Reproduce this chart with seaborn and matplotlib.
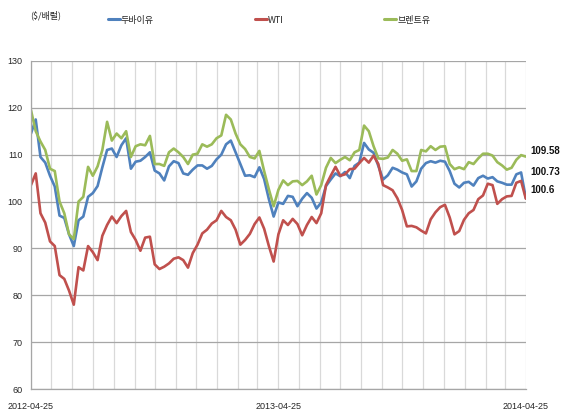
import pandas as pd
import matplotlib.pyplot as plt
import matplotlib.dates as mdates
import seaborn as sns

# -------------------- #
# Data (weekly)
# -------------------- #
start_date = "2012-04-25"
end_date = "2014-04-25"
n_weeks = 105

dubai = [114.5, 117.5, 109.5, 108.3, 105.5, 103.2, 97.0, 96.5, 93.0, 90.5,
         96.0, 96.8, 101.0, 101.8, 103.3, 107.3, 111.0, 111.3, 109.5, 112.0,
         113.5, 107.0, 108.5, 108.7, 109.5, 110.5, 106.6, 106.0, 104.5, 107.5,
         108.6, 108.2, 106.0, 105.7, 106.8, 107.7, 107.7, 107.0, 107.6, 109.0,
         110.0, 112.2, 113.0, 110.5, 108.0, 105.5, 105.6, 105.2, 107.3, 104.8,
         100.5, 96.8, 99.8, 99.5, 101.2, 101.0, 99.0, 100.6, 101.8, 100.8,
         98.5, 99.8, 103.3, 104.7, 106.0, 105.4, 106.3, 105.0, 107.6, 108.3,
         112.5, 111.1, 110.4, 107.6, 104.7, 105.6, 107.2, 106.8, 106.2, 105.8,
         103.2, 104.3, 107.0, 108.2, 108.6, 108.3, 108.7, 108.5, 106.5, 103.8,
         103.0, 104.0, 104.2, 103.4, 105.0, 105.5, 104.9, 105.2, 104.3, 104.0,
         103.6, 103.6, 105.8, 106.2, 100.73]

wti = [103.5, 106.0, 97.5, 95.5, 91.5, 90.5, 84.3, 83.5, 81.0, 78.0,
       86.0, 85.3, 90.5, 89.2, 87.5, 92.7, 95.0, 96.8, 95.4, 96.9,
       98.0, 93.5, 91.8, 89.5, 92.3, 92.5, 86.6, 85.6, 86.1, 86.8,
       87.8, 88.1, 87.5, 85.9, 89.0, 90.8, 93.2, 94.0, 95.3, 96.0,
       98.0, 96.7, 96.0, 94.0, 90.8, 91.8, 93.1, 95.2, 96.6, 94.2,
       90.5, 87.2, 93.0, 96.0, 95.0, 96.3, 95.2, 92.8, 95.0, 96.7,
       95.4, 97.5, 103.5, 105.5, 107.4, 105.5, 105.8, 106.9, 107.0, 108.2,
       109.3, 108.3, 109.8, 108.0, 103.5, 103.0, 102.4, 100.7, 98.2, 94.7,
       94.8, 94.5, 93.8, 93.2, 96.2, 97.7, 98.8, 99.3, 96.6, 93.0,
       93.7, 96.1, 97.5, 98.2, 100.5, 101.3, 103.8, 103.5, 99.5, 100.5,
       101.1, 101.2, 104.0, 104.4, 100.6]

brent = [119.5, 115.0, 112.8, 111.0, 107.0, 106.5, 100.0, 97.5, 93.0, 92.0,
         100.0, 101.0, 107.4, 105.5, 107.5, 111.0, 117.0, 113.0, 114.5, 113.5,
         115.0, 109.5, 111.8, 112.2, 112.0, 114.0, 108.0, 108.0, 107.6, 110.5,
         111.3, 110.5, 109.5, 108.0, 110.0, 110.2, 112.2, 111.7, 112.2, 113.5,
         114.1, 118.5, 117.5, 114.5, 112.2, 111.2, 109.5, 109.2, 110.8, 106.5,
         102.6, 99.0, 102.5, 104.5, 103.5, 104.3, 104.4, 103.5, 104.3, 105.5,
         101.5, 103.5, 107.2, 109.3, 108.2, 108.9, 109.5, 108.8, 110.5, 111.0,
         116.2, 115.0, 111.8, 109.2, 109.1, 109.4, 111.0, 110.2, 108.7, 109.0,
         106.5, 106.5, 111.0, 110.7, 111.8, 111.0, 111.7, 111.8, 108.0, 106.9,
         107.3, 106.9, 108.4, 108.0, 109.2, 110.2, 110.2, 109.8, 108.4, 107.7,
         106.8, 107.2, 108.9, 109.9, 109.58]

series_names = ["두바이유", "WTI", "브렌트유"]
series_colors = ["#4F81BD", "#C0504D", "#9BBB59"]
x_labels = ["2012-04-25", "2013-04-25", "2014-04-25"]
end_labels = ["109.58", "100.73", "100.6"]

dates = pd.date_range(start_date, end_date, periods=n_weeks)
df = pd.DataFrame({"date": dates, "두바이유": dubai, "WTI": wti, "브렌트유": brent})
long_df = df.melt(id_vars="date", var_name="유종", value_name="가격")

# -------------------- #
# Plot
# -------------------- #
sns.set_style("white")
plt.rcParams["font.family"] = ["Liberation Sans", "Noto Sans CJK KR", "DejaVu Sans"]

fig = plt.figure(figsize=(5.63, 4.17), dpi=100)
ax = fig.add_axes([0.055, 0.067, 0.879, 0.787])

sns.lineplot(data=long_df, x="date", y="가격", hue="유종", hue_order=series_names,
             palette=series_colors, linewidth=1.9, ax=ax, legend=False)

ax.set_xlim(pd.Timestamp(start_date), pd.Timestamp(end_date))
ax.set_ylim(60, 130)
ax.set_yticks(range(60, 131, 10))
ax.set_xticks(pd.to_datetime(x_labels))
ax.set_xticklabels(x_labels)
ax.xaxis.set_minor_locator(mdates.MonthLocator(bymonthday=25))

ax.grid(axis="y", color="#A6A6A6", linewidth=0.9)
ax.grid(axis="x", which="both", color="#D9D9D9", linewidth=0.9)
ax.set_axisbelow(True)

for side in ["top", "right"]:
    ax.spines[side].set_visible(False)
for side in ["left", "bottom"]:
    ax.spines[side].set_color("#A6A6A6")
    ax.spines[side].set_linewidth(0.9)

ax.tick_params(axis="y", length=3, color="#A6A6A6", labelsize=6.5, pad=3)
ax.tick_params(axis="x", which="both", length=0, labelsize=6.5, pad=9)
ax.set_xlabel("")
ax.set_ylabel("")

# end labels (nudged apart like the original)
end_x = pd.Timestamp(end_date) + pd.Timedelta(days=6)
for txt, yv in zip(end_labels, [110.7, 106.4, 102.5]):
    ax.text(end_x, yv, txt, fontsize=7, va="center", ha="left", clip_on=False,
            color="#111111", fontweight="bold")

# legend and unit
handles = [plt.Line2D([], [], color=c, linewidth=2.2) for c in series_colors]
fig.legend(handles, series_names, loc="center", bbox_to_anchor=(0.478, 0.952), ncol=3,
           frameon=False, handlelength=1.3, handletextpad=0.1,
           columnspacing=11.2, prop={"family": ["Noto Sans CJK KR"], "size": 6.5})
fig.text(0.053, 0.962, "($/배럴)", fontsize=6.5, va="center", ha="left",
         family=["Noto Sans CJK KR", "DejaVu Sans"])

fig.savefig("out.png", dpi=100)
